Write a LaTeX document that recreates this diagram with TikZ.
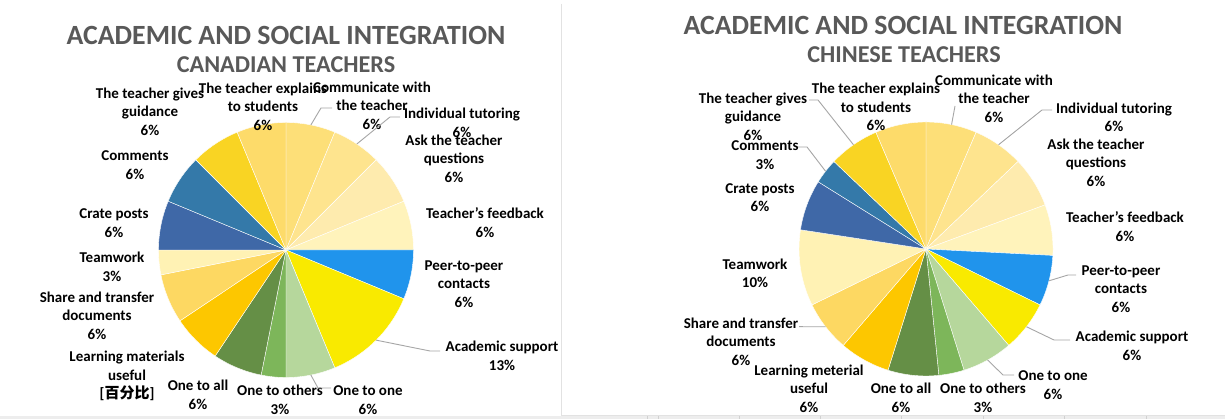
\documentclass[tikz,border=0pt]{standalone}
\usepackage{fontspec}
\setmainfont{Carlito}
\newfontfamily\cjk{Noto Sans CJK SC}
\usetikzlibrary{calc}
\definecolor{cComm}{HTML}{FDDF78}
\definecolor{cIndiv}{HTML}{FEE48E}
\definecolor{cAsk}{HTML}{FEEBAE}
\definecolor{cFeed}{HTML}{FFF3BB}
\definecolor{cPeer}{HTML}{2094EC}
\definecolor{cAcad}{HTML}{F9EA00}
\definecolor{cOne}{HTML}{B6D79C}
\definecolor{cOthers}{HTML}{7DB65A}
\definecolor{cAll}{HTML}{658F46}
\definecolor{cLearn}{HTML}{FDC700}
\definecolor{cShare}{HTML}{FDD862}
\definecolor{cTeam}{HTML}{FFF2B4}
\definecolor{cCrate}{HTML}{3F68A7}
\definecolor{cComments}{HTML}{3479A9}
\definecolor{cGuide}{HTML}{F9D423}
\definecolor{cExplain}{HTML}{FDDB6A}
\definecolor{titlegray}{HTML}{595959}
\definecolor{leadergray}{HTML}{A6A6A6}
\definecolor{framegray}{HTML}{E2E2E2}
\newcommand\pieslice[5]{%
  \filldraw[slicestyle, fill=#5] (#1) -- ++({90-(#3)}:#2)
    arc[start angle={90-(#3)}, end angle={90-(#4)}, radius=#2] -- cycle;}
\begin{document}
\begin{tikzpicture}[x=1pt,y=1pt,
  lbl/.style={font=\fontsize{15}{18.5}\selectfont\bfseries, align=center, inner sep=0pt, text=black},
  ttl/.style={font=\fontsize{27.8}{30}\selectfont\bfseries, text=titlegray, inner sep=0pt},
  subttl/.style={font=\fontsize{24.2}{28}\selectfont\bfseries, text=titlegray, inner sep=0pt},
  leader/.style={draw=leadergray, line width=0.9pt},
  slicestyle/.style={draw=white, line width=0.4pt}]
\useasboundingbox (0,0) rectangle (1225,419);
\fill[white] (0,0) rectangle (1225,419);
% frame and sheet strip
\fill[black!7] (0,0) rectangle (1225,2.6);
\draw[framegray, line width=1.3pt] (561.5,415) -- (561.5,3.2) -- (1225,3.2);
\foreach \x in {647,658,739,820,901,983,1064,1146} \draw[black!18, line width=0.6pt] (\x,0) -- (\x,3);

% ---------------- left chart ----------------
\node[ttl] (tL) at (286,384) {ACADEMIC AND SOCIAL INTEGRATION};
\node[subttl] (sL) at (286,354) {CANADIAN TEACHERS};
\coordinate (cL) at (286,169);
\foreach \a/\b/\c in {0/22.5/cComm, 22.5/45/cIndiv, 45/67.5/cAsk, 67.5/90/cFeed,
  90/112.5/cPeer, 112.5/157.5/cAcad, 157.5/180/cOne, 180/191.25/cOthers,
  191.25/213.75/cAll, 213.75/236.25/cLearn, 236.25/258.75/cShare, 258.75/270/cTeam,
  270/292.5/cCrate, 292.5/315/cComments, 315/337.5/cGuide, 337.5/360/cExplain}
  {\pieslice{cL}{127.5}{\a}{\b}{\c}}

\node[lbl] (lGuide) at (150,307.5) {The teacher gives\\guidance\\6\%};
\node[lbl] (lExplain) at (263,312.5) {The teacher explains\\to students\\6\%};
\node[lbl] (lComm) at (372,313.5) {Communicate with\\the teacher\\6\%};
\node[lbl] (lIndiv) at (462,296) {Individual tutoring\\6\%};
\node[lbl] (lAsk) at (454,260.5) {Ask the teacher\\questions\\6\%};
\node[lbl] (lComments) at (135,254) {Comments\\6\%};
\node[lbl] (lCrate) at (114,196) {Crate posts\\6\%};
\node[lbl] (lTeam) at (112,152) {Teamwork\\3\%};
\node[lbl] (lShare) at (97,103.5) {Share and transfer\\documents\\6\%};
\node[lbl] (lLearn) at (127,43) {Learning materials\\useful\\{[}{\cjk 百分比}{]}};
\node[lbl] (lAll) at (198,24) {One to all\\6\%};
\node[lbl] (lOthers) at (280,19) {One to others\\3\%};
\node[lbl] (lOne) at (368,19) {One to one\\6\%};
\node[lbl] (lFeed) at (485,196.5) {Teacher’s feedback\\6\%};
\node[lbl] (lPeer) at (464,135) {Peer-to-peer\\contacts\\6\%};
\node[lbl] (lAcad) at (502,63) {Academic support\\13\%};

\coordinate (eLcomm) at ($(cL)+({90-11.25}:127.5)$);
\coordinate (eLindiv) at ($(cL)+({90-33.75}:127.5)$);
\coordinate (eLone) at ($(cL)+({90-168.75}:127.5)$);
\coordinate (eLacad) at ($(cL)+({90-135}:127.5)$);
\coordinate (kLcomm1) at (321,311); \coordinate (kLcomm2) at (332,311);
\coordinate (kLindiv1) at (390,302); \coordinate (kLindiv2) at (400,302);
\coordinate (kLone1) at (318,31); \coordinate (kLone2) at (331,31);
\coordinate (kLacad1) at (430,68); \coordinate (kLacad2) at (440,68);
\draw[leader] (eLcomm) -- (kLcomm1) -- (kLcomm2);
\draw[leader] (eLindiv) -- (kLindiv1) -- (kLindiv2);
\draw[leader] (eLone) -- (kLone1) -- (kLone2);
\draw[leader] (eLacad) -- (kLacad1) -- (kLacad2);

% ---------------- right chart ----------------
\node[ttl] (tR) at (903,394) {ACADEMIC AND SOCIAL INTEGRATION};
\node[subttl] (sR) at (904,364) {CHINESE TEACHERS};
\coordinate (cR) at (926,170);
\foreach \a/\b/\c in {0/2/cComm, 2/4/cIndiv, 4/6/cAsk, 6/8/cFeed,
  8/10/cPeer, 10/12/cAcad, 12/14/cOne, 14/15/cOthers,
  15/17/cAll, 17/19/cLearn, 19/21/cShare, 21/24/cTeam,
  24/26/cCrate, 26/27/cComments, 27/29/cGuide, 29/31/cExplain}
  {\pieslice{cR}{127}{\a*360/31}{\b*360/31}{\c}}

\node[lbl] (rGuide) at (753,302.5) {The teacher gives\\guidance\\6\%};
\node[lbl] (rExplain) at (876,312) {The teacher explains\\to students\\6\%};
\node[lbl] (rComm) at (994,320.5) {Communicate with\\the teacher\\6\%};
\node[lbl] (rIndiv) at (1114,301.5) {Individual tutoring\\6\%};
\node[lbl] (rAsk) at (1096,256.5) {Ask the teacher\\questions\\6\%};
\node[lbl] (rComments) at (765,264) {Comments\\3\%};
\node[lbl] (rCrate) at (760,221.5) {Crate posts\\6\%};
\node[lbl] (rFeed) at (1125,192.5) {Teacher’s feedback\\6\%};
\node[lbl] (rTeam) at (755,145.5) {Teamwork\\10\%};
\node[lbl] (rPeer) at (1121,130) {Peer-to-peer\\contacts\\6\%};
\node[lbl] (rAcad) at (1132,73) {Academic support\\6\%};
\node[lbl] (rShare) at (741,77.5) {Share and transfer\\documents\\6\%};
\node[lbl] (rLearn) at (809,30.5) {Learning meterial\\useful\\6\%};
\node[lbl] (rAll) at (901,21) {One to all\\6\%};
\node[lbl] (rOthers) at (983,21) {One to others\\3\%};
\node[lbl] (rOne) at (1053,34) {One to one\\6\%};

\coordinate (eRguide) at ($(cR)+({90-28*360/31}:127)$);
\coordinate (eRcomments) at ($(cR)+({90-26.5*360/31}:127)$);
\coordinate (eRcomm) at ($(cR)+({90-1*360/31}:127)$);
\coordinate (eRindiv) at ($(cR)+({90-3*360/31}:127)$);
\coordinate (eRpeer) at ($(cR)+({90-9*360/31}:127)$);
\coordinate (eRacad) at ($(cR)+({90-11*360/31}:127)$);
\coordinate (eRone) at ($(cR)+({90-13*360/31}:127)$);
\coordinate (eRshare) at ($(cR)+({90-20*360/31}:127)$);
\coordinate (kRguide1) at (818,319); \coordinate (kRguide2) at (809,319);
\coordinate (kRcomments1) at (807,272); \coordinate (kRcomments2) at (798,272);
\coordinate (kRcomm) at (955,313);
\coordinate (kRindiv1) at (1042,309); \coordinate (kRindiv2) at (1052,309);
\coordinate (kRpeer1) at (1068,144); \coordinate (kRpeer2) at (1076,144);
\coordinate (kRacad1) at (1054,79); \coordinate (kRacad2) at (1070,79);
\coordinate (kRone1) at (1003,44); \coordinate (kRone2) at (1014,44);
\coordinate (kRshare) at (799,92.3);
\draw[leader] (eRguide) -- (kRguide1) -- (kRguide2);
\draw[leader] (eRcomments) -- (kRcomments1) -- (kRcomments2);
\draw[leader] (eRcomm) -- (kRcomm);
\draw[leader] (eRindiv) -- (kRindiv1) -- (kRindiv2);
\draw[leader] (eRpeer) -- (kRpeer1) -- (kRpeer2);
\draw[leader] (eRacad) -- (kRacad1) -- (kRacad2);
\draw[leader] (eRone) -- (kRone1) -- (kRone2);
\draw[leader] (eRshare) -- (kRshare);
\end{tikzpicture}
\end{document}
